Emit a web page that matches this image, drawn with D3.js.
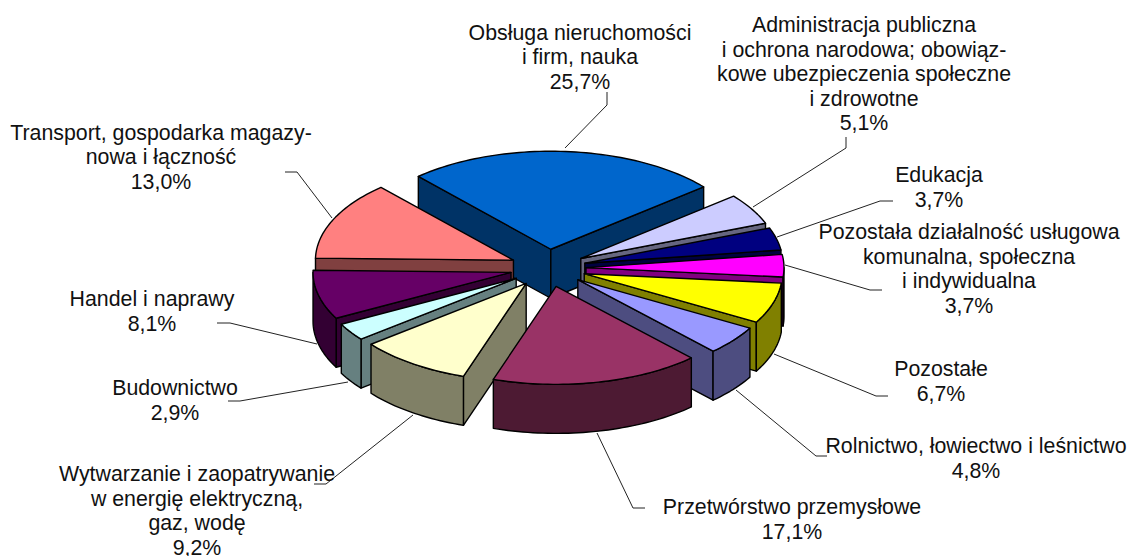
<!DOCTYPE html>
<html><head><meta charset="utf-8">
<script src="https://cdn.jsdelivr.net/npm/d3@7/dist/d3.min.js"></script>
<style>html,body{margin:0;background:#fff}svg{display:block}text{font-family:"Liberation Sans",Arial,sans-serif;font-size:21.33px;fill:#111}</style>
</head><body><svg id="c" width="1128" height="556"></svg>
<script>
const categories = [
 "Obsługa nieruchomości i firm, nauka",
 "Administracja publiczna i ochrona narodowa; obowiązkowe ubezpieczenia społeczne i zdrowotne",
 "Edukacja",
 "Pozostała działalność usługowa komunalna, społeczna i indywidualna",
 "Pozostałe",
 "Rolnictwo, łowiectwo i leśnictwo",
 "Przetwórstwo przemysłowe",
 "Wytwarzanie i zaopatrywanie w energię elektryczną, gaz, wodę",
 "Budownictwo",
 "Handel i naprawy",
 "Transport, gospodarka magazynowa i łączność"];
const values = [25.7,5.1,3.7,3.7,6.7,4.8,17.1,9.2,2.9,8.1,13.0];
const topColors = ["#0066CC","#CCCCFF","#000080","#FF00FF","#FFFF00","#9999FF","#993366","#FFFFCC","#CCFFFF","#660066","#FF8080"];
const sideColors = ["#003366","#666680","#000040","#800080","#808000","#4D4D80","#4D1A33","#808066","#668080","#330033","#804040"];
const labelLines = [
 ["Obsługa nieruchomości","i firm, nauka"],
 ["Administracja publiczna","i ochrona narodowa; obowiąz-","kowe ubezpieczenia społeczne","i zdrowotne"],
 ["Edukacja"],
 ["Pozostała działalność usługowa","komunalna, społeczna","i indywidualna"],
 ["Pozostałe"],
 ["Rolnictwo, łowiectwo i leśnictwo"],
 ["Przetwórstwo przemysłowe"],
 ["Wytwarzanie i zaopatrywanie","w energię elektryczną,","gaz, wodę"],
 ["Budownictwo"],
 ["Handel i naprawy"],
 ["Transport, gospodarka magazy-","nowa i łączność"]];
// label placement: centre x, first baseline
const labelPos = [[580,39.5],[864,32],[939,182],[969,239],[941,376],[976,453],[792,514],[197,481],[175,395],[152,306],[161,139.5]];
const leaders = [
 [[565,148],[607,105],[607,92]],
 [[753,207],[846,148],[846,137]],
 [[777,237],[880,201],[893,201]],
 [[785,265],[870,290],[882,290]],
 [[774,354],[876,396],[888,396]],
 [[736,390],[816,456],[827,456]],
 [[597,433],[633,508],[645,508]],
 [[413,415],[326,484],[314,484]],
 [[348,382],[240,401],[228,401]],
 [[317,344],[230,323],[217,323]],
 [[332,218],[297,172],[285,172]]];

const cx=548, cy=268, rx=198, ry=98, depth=49, explode=38;
const svg=d3.select("#c");
const fmt=v=>v.toFixed(1).replace(".",",")+"%";
const rad=d=>d*Math.PI/180;
const slices=d3.pie().sort(null).startAngle(rad(-42)).endAngle(rad(318))(values);
const line=d3.line().curve(d3.curveLinear);
function proj(s,a,r,dz){
  const m=(s.startAngle+s.endAngle)/2;
  return [cx+explode*Math.sin(m)+r*rx*Math.sin(a), cy-explode*Math.cos(m)*ry/rx-r*ry*Math.cos(a)+dz];
}
function arcAngles(a0,a1){const n=Math.max(2,Math.ceil((a1-a0)/rad(1.5)));return d3.range(n+1).map(i=>a0+(a1-a0)*i/n);}
const order=slices.slice().sort((p,q)=>(-Math.cos((p.startAngle+p.endAngle)/2))-(-Math.cos((q.startAngle+q.endAngle)/2)));
const st={stroke:"#000","stroke-width":1.4,"stroke-linejoin":"round"};
function face(g,pts,fill){const p=g.append("path").attr("d",line(pts)+"Z").attr("fill",fill);Object.entries(st).forEach(([k,v])=>p.attr(k,v));}
const gp=svg.append("g");
order.forEach(s=>{
  const g=gp.append("g"), side=sideColors[s.index], a0=s.startAngle, a1=s.endAngle;
  if(-Math.sin(a0)>0) face(g,[proj(s,a0,0,0),proj(s,a0,1,0),proj(s,a0,1,depth),proj(s,a0,0,depth)],side);
  if(Math.sin(a1)>0) face(g,[proj(s,a1,0,0),proj(s,a1,1,0),proj(s,a1,1,depth),proj(s,a1,0,depth)],side);
  const lo=Math.max(a0,rad(90)), hi=Math.min(a1,rad(270));
  if(hi>lo){
    const as=arcAngles(lo,hi);
    face(g,as.map(a=>proj(s,a,1,0)).concat(as.slice().reverse().map(a=>proj(s,a,1,depth))),side);
  }
  face(g,[proj(s,a0,0,0)].concat(arcAngles(a0,a1).map(a=>proj(s,a,1,0))),topColors[s.index]);
});
svg.append("g").selectAll("path").data(leaders).join("path")
  .attr("d",d=>line(d)).attr("fill","none").attr("stroke","#222").attr("stroke-width",1);
const lh=24.5;
svg.append("g").selectAll("text").data(values).join("text")
  .attr("text-anchor","middle")
  .attr("x",(d,i)=>labelPos[i][0])
  .attr("y",(d,i)=>labelPos[i][1])
  .each(function(d,i){
    const t=d3.select(this);
    labelLines[i].concat([fmt(d)]).forEach((l,j)=>t.append("tspan").attr("x",labelPos[i][0]).attr("y",labelPos[i][1]+j*lh).text(l));
  });
</script></body></html>
